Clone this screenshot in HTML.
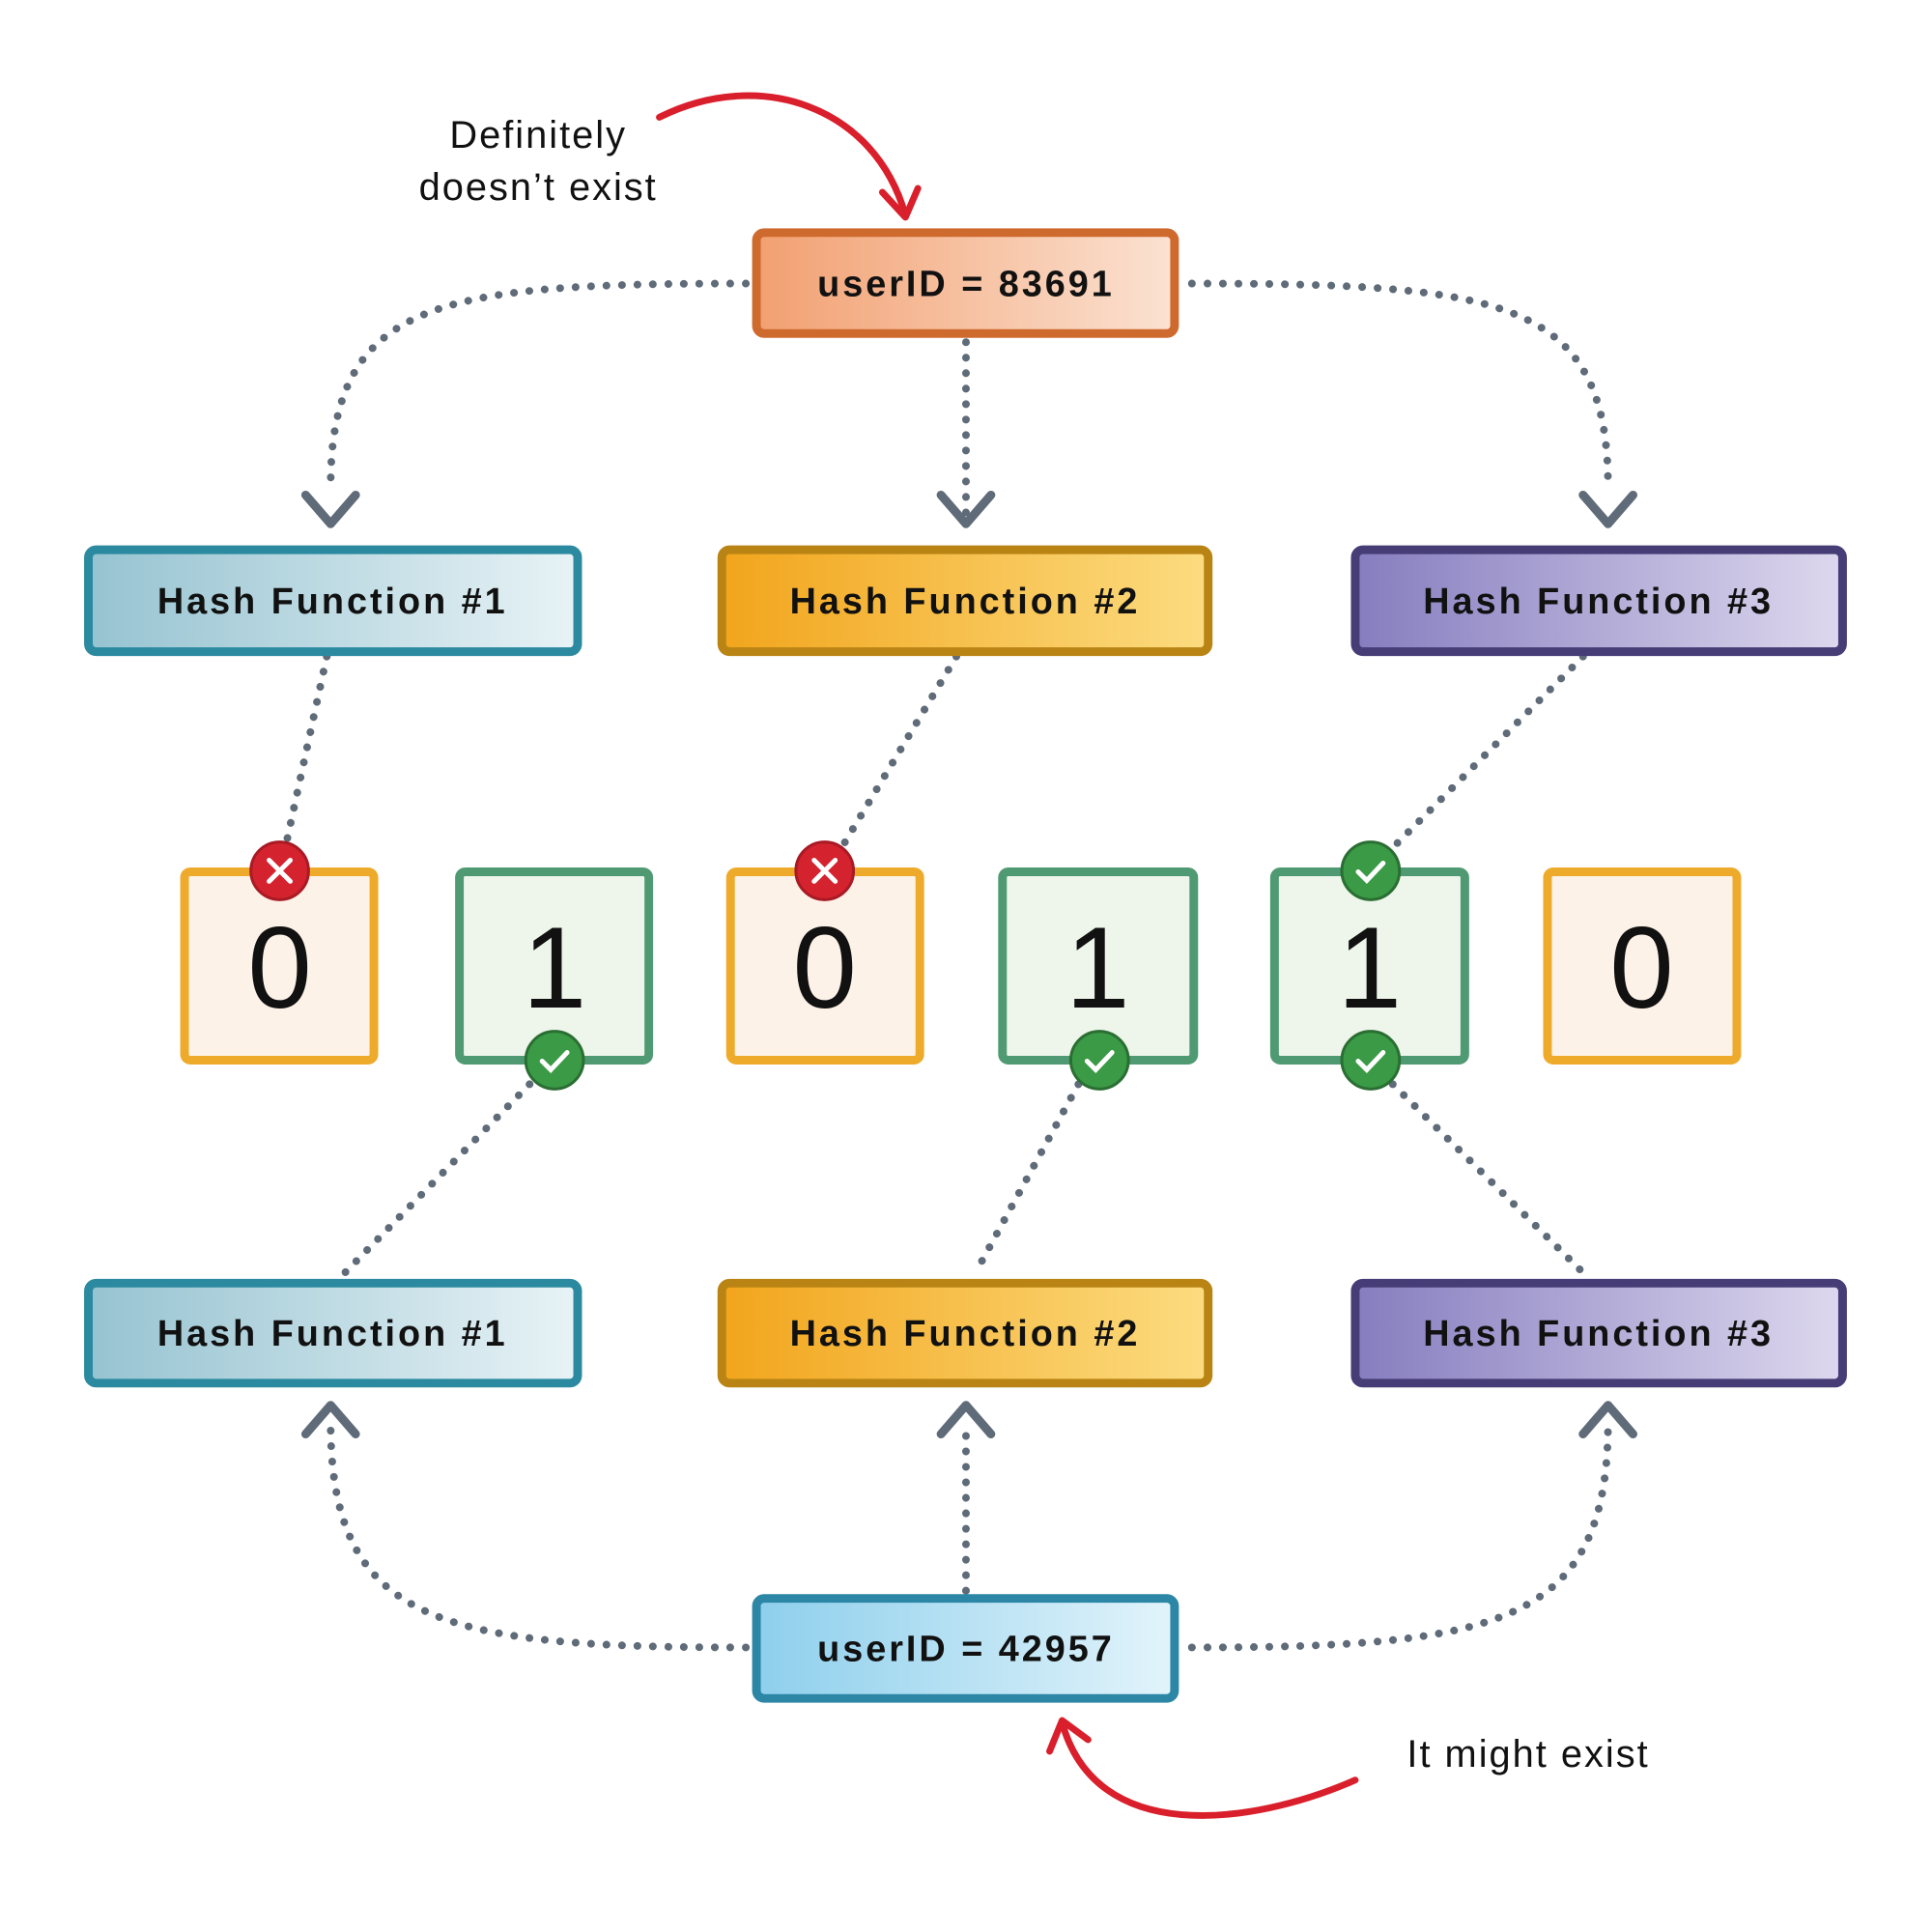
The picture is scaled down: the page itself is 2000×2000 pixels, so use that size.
<!DOCTYPE html>
<html><head><meta charset="utf-8"><style>
html,body{margin:0;padding:0;background:#fff}
svg{display:block}
.lbl{font-family:"Liberation Sans",sans-serif;font-weight:bold;font-size:38px;letter-spacing:3px;fill:#111}
.hand{font-family:"Liberation Sans",sans-serif;font-size:40px;fill:#111;letter-spacing:2px}
.bit{font-family:"Liberation Sans",sans-serif;font-size:120px;fill:#111}
</style></head><body>
<svg width="2000" height="2000" viewBox="0 0 2000 2000" xmlns="http://www.w3.org/2000/svg">
<defs>
<linearGradient id="gU1" x1="0" y1="0" x2="1" y2="0"><stop offset="0" stop-color="#f2a071"/><stop offset="1" stop-color="#fbe2d2"/></linearGradient>
<linearGradient id="gU2" x1="0" y1="0" x2="1" y2="0"><stop offset="0" stop-color="#8ecfec"/><stop offset="1" stop-color="#e2f4fb"/></linearGradient>
<linearGradient id="gH1" x1="0" y1="0" x2="1" y2="0"><stop offset="0" stop-color="#96c3d1"/><stop offset="1" stop-color="#e8f3f6"/></linearGradient>
<linearGradient id="gH2" x1="0" y1="0" x2="1" y2="0"><stop offset="0" stop-color="#f2a51c"/><stop offset="1" stop-color="#fcdc80"/></linearGradient>
<linearGradient id="gH3" x1="0" y1="0" x2="1" y2="0"><stop offset="0" stop-color="#867dbf"/><stop offset="1" stop-color="#ddd8ee"/></linearGradient>
</defs>
<g transform="scale(0.995)">
<g fill="none" stroke="#5f6b78" stroke-width="8" stroke-linecap="round" stroke-dasharray="0.1 16">
<path d="M776,295 C460,295 344,310 344,506"/>
<path d="M1240,295 C1560,295 1673,310 1673,506"/>
<path d="M1005,356 L1005,538"/>
<path d="M776,1714 C460,1714 344,1690 344,1480"/>
<path d="M1240,1714 C1560,1714 1673,1690 1673,1480"/>
<path d="M1005,1655 L1005,1480"/>
<path d="M340,683 L299,872"/>
<path d="M995,683 L878,878"/>
<path d="M1647,683 L1449,882"/>
<path d="M551,1128 L359,1324"/>
<path d="M1122,1128 L1015,1324"/>
<path d="M1449,1128 L1647,1324"/>
</g>
<g fill="none" stroke="#5f6b78" stroke-width="9" stroke-linecap="round" stroke-linejoin="round">
<path d="M318,515 L344,545 L370,515"/>
<path d="M979,515 L1005,545 L1031,515"/>
<path d="M1647,515 L1673,545 L1699,515"/>
<path d="M318,1492 L344,1462 L370,1492"/>
<path d="M979,1492 L1005,1462 L1031,1492"/>
<path d="M1647,1492 L1673,1462 L1699,1492"/>
</g>
<g fill="none" stroke="#d91f2b" stroke-width="7" stroke-linecap="round" stroke-linejoin="round">
<path d="M686,122 C790,70 910,110 942,224"/>
<path d="M918,200 L942,226 L955,196"/>
<path d="M1410,1852 C1300,1900 1140,1920 1105,1792"/>
<path d="M1092,1822 L1105,1790 L1132,1810"/>
</g>
<text class="hand" x="560" y="154" text-anchor="middle">Definitely</text>
<text class="hand" x="560" y="208" text-anchor="middle">doesn’t exist</text>
<text class="hand" x="1590" y="1838" text-anchor="middle">It might exist</text>
<rect x="787" y="242" width="435" height="105" rx="8" fill="url(#gU1)" stroke="#cf6a2e" stroke-width="9"/>
<text class="lbl" x="1005" y="308" text-anchor="middle">userID = 83691</text>
<rect x="787" y="1663" width="435" height="104" rx="8" fill="url(#gU2)" stroke="#2c86a6" stroke-width="9"/>
<text class="lbl" x="1005" y="1728" text-anchor="middle">userID = 42957</text>
<g>
<rect x="92" y="572" width="509" height="106" rx="8" fill="url(#gH1)" stroke="#2b8a9f" stroke-width="9"/>
<text class="lbl" x="346" y="638" text-anchor="middle">Hash Function #1</text>
<rect x="751" y="572" width="506" height="106" rx="8" fill="url(#gH2)" stroke="#b98414" stroke-width="9"/>
<text class="lbl" x="1004" y="638" text-anchor="middle">Hash Function #2</text>
<rect x="1410" y="572" width="507" height="106" rx="8" fill="url(#gH3)" stroke="#463c76" stroke-width="9"/>
<text class="lbl" x="1663" y="638" text-anchor="middle">Hash Function #3</text>
<rect x="92" y="1335" width="509" height="104" rx="8" fill="url(#gH1)" stroke="#2b8a9f" stroke-width="9"/>
<text class="lbl" x="346" y="1400" text-anchor="middle">Hash Function #1</text>
<rect x="751" y="1335" width="506" height="104" rx="8" fill="url(#gH2)" stroke="#b98414" stroke-width="9"/>
<text class="lbl" x="1004" y="1400" text-anchor="middle">Hash Function #2</text>
<rect x="1410" y="1335" width="507" height="104" rx="8" fill="url(#gH3)" stroke="#463c76" stroke-width="9"/>
<text class="lbl" x="1663" y="1400" text-anchor="middle">Hash Function #3</text>
</g>
<g stroke-width="9">
<rect x="192" y="907" width="197" height="196" rx="6" fill="#fdf2e8" stroke="#eeab2b"/>
<rect x="478" y="907" width="197" height="196" rx="6" fill="#eef5ea" stroke="#4f9a72"/>
<rect x="760" y="907" width="197" height="196" rx="6" fill="#fdf2e8" stroke="#eeab2b"/>
<rect x="1043" y="907" width="199" height="196" rx="6" fill="#eef5ea" stroke="#4f9a72"/>
<rect x="1326" y="907" width="198" height="196" rx="6" fill="#eef5ea" stroke="#4f9a72"/>
<rect x="1610" y="907" width="197" height="196" rx="6" fill="#fdf2e8" stroke="#eeab2b"/>
</g>
<g class="bit" text-anchor="middle">
<text x="291" y="1048">0</text><text x="577" y="1048">1</text><text x="858" y="1048">0</text>
<text x="1142" y="1048">1</text><text x="1425" y="1048">1</text><text x="1708" y="1048">0</text>
</g>
<g stroke="#fff" stroke-width="5" stroke-linecap="round" fill="none">
<circle cx="291" cy="906" r="30" fill="#d4232f" stroke="#a81a24" stroke-width="3"/><path d="M280,895 L302,917 M302,895 L280,917"/>
<circle cx="858" cy="906" r="30" fill="#d4232f" stroke="#a81a24" stroke-width="3"/><path d="M847,895 L869,917 M869,895 L847,917"/>
<circle cx="1426" cy="906" r="30" fill="#3a9a45" stroke="#2a6e33" stroke-width="3"/><path d="M1413,907 L1422,916 L1439,898"/>
<circle cx="577" cy="1103" r="30" fill="#3a9a45" stroke="#2a6e33" stroke-width="3"/><path d="M564,1104 L573,1113 L590,1095"/>
<circle cx="1144" cy="1103" r="30" fill="#3a9a45" stroke="#2a6e33" stroke-width="3"/><path d="M1131,1104 L1140,1113 L1157,1095"/>
<circle cx="1426" cy="1103" r="30" fill="#3a9a45" stroke="#2a6e33" stroke-width="3"/><path d="M1413,1104 L1422,1113 L1439,1095"/>
</g>
</g>
</svg>
</body></html>
